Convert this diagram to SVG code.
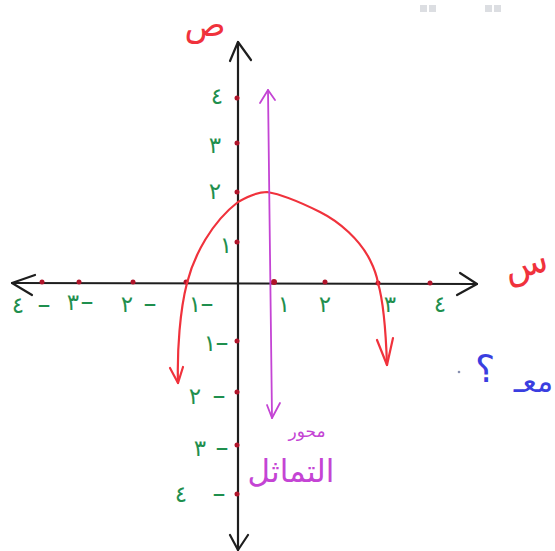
<svg xmlns="http://www.w3.org/2000/svg" width="555" height="551" viewBox="0 0 555 551">
<style>
.ax{fill:none;stroke:#1e1e1e;stroke-width:2.2;stroke-linecap:round;stroke-linejoin:round}
.cv{fill:none;stroke:#f0323c;stroke-width:2.2;stroke-linecap:round;stroke-linejoin:round}
.sym{fill:none;stroke:#c444d4;stroke-width:1.8;stroke-linecap:round;stroke-linejoin:round}
.dot{fill:#b0142a}
.g{fill:#1f8f4e;font-family:"DejaVu Sans",sans-serif;font-size:23px;text-anchor:middle}
.d{font-size:26px}
.r{fill:#f0323c;font-family:"DejaVu Sans",sans-serif;text-anchor:middle}
.m{fill:#c444d4;font-family:"DejaVu Sans",sans-serif;text-anchor:middle}
.b{fill:#3a3ee0;font-family:"DejaVu Sans",sans-serif}
.lt{unicode-bidi:bidi-override;direction:ltr}
</style>
<rect width="555" height="551" fill="#ffffff"/>
<g id="corner-marks" fill="#dcdee2">
<rect x="420" y="5" width="7" height="7"/><rect x="429" y="5" width="7" height="7"/>
<rect x="485" y="5" width="7" height="7"/><rect x="494" y="5" width="7" height="7"/>
</g>
<g id="axes">
<path class="ax" d="M12,283 L477,284"/>
<path class="ax" d="M35,275 L12,283 L32,295"/>
<path class="ax" d="M460,273 L477,284 L457,295"/>
<path class="ax" d="M238,42 L238,550"/>
<path class="ax" d="M230,61 L238,42 L251,60"/>
<path class="ax" d="M230,535 L238,550 L248,535"/>
</g>
<g id="ticks">
<circle class="dot" cx="42" cy="282" r="2.5"/>
<circle class="dot" cx="79" cy="282" r="2.5"/>
<circle class="dot" cx="133" cy="282" r="2.5"/>
<circle class="dot" cx="186" cy="282" r="2.5"/>
<circle class="dot" cx="274" cy="282" r="3"/>
<circle class="dot" cx="325" cy="282" r="2.5"/>
<circle class="dot" cx="378" cy="283" r="2.5"/>
<circle class="dot" cx="430" cy="283" r="2.5"/>
<circle class="dot" cx="237" cy="98" r="2.5"/>
<circle class="dot" cx="237" cy="143" r="2.5"/>
<circle class="dot" cx="237" cy="192" r="2.5"/>
<circle class="dot" cx="237" cy="242" r="2.5"/>
<circle class="dot" cx="237" cy="341" r="2.5"/>
<circle class="dot" cx="237" cy="392" r="2.5"/>
<circle class="dot" cx="237" cy="445" r="2.5"/>
<circle class="dot" cx="237" cy="494" r="2.5"/>
</g>
<g id="x-labels">
<text class="g" x="284" y="312">١</text>
<text class="g" x="325" y="312">٢</text>
<text class="g" x="390" y="312">٣</text>
<text class="g" x="440" y="312">٤</text>
<text class="g lt" y="312"><tspan x="195">١</tspan><tspan class="d" x="207">–</tspan></text>
<text class="g lt" y="312"><tspan x="127">٢</tspan><tspan class="d" x="150">–</tspan></text>
<text class="g lt" y="310"><tspan x="73">٣</tspan><tspan class="d" x="87">–</tspan></text>
<text class="g lt" y="313"><tspan x="18">٤</tspan><tspan class="d" x="44">–</tspan></text>
</g>
<g id="y-labels">
<text class="g" x="217" y="104">٤</text>
<text class="g" x="215" y="153">٣</text>
<text class="g" x="215" y="199">٢</text>
<text class="g" x="226" y="253">١</text>
<text class="g lt" y="351"><tspan x="210">١</tspan><tspan class="d" x="222">–</tspan></text>
<text class="g lt" y="404"><tspan x="195">٢</tspan><tspan class="d" x="219">–</tspan></text>
<text class="g lt" y="456"><tspan x="200">٣</tspan><tspan class="d" x="222">–</tspan></text>
<text class="g lt" y="502"><tspan x="181">٤</tspan><tspan class="d" x="219">–</tspan></text>
</g>
<g id="axis-names">
<text class="r" x="205" y="36" font-size="34">ص</text>
<text class="r" x="525" y="276" font-size="36" transform="rotate(-15 525 262)">س</text>
</g>
<g id="curve">
<path class="cv" d="M178,383 C177,350 180,310 187,283 C194,255 212,222 238,202 C250,195 258,192 267,192 C280,194 300,202 320,212 C340,222 360,240 370,260 C375,270 377,277 378,283 C383,300 386,335 387,365"/>
<path class="cv" d="M170,368 L178,383 L183,367"/>
<path class="cv" d="M377,340 L387,365 L393,338"/>
</g>
<g id="symmetry-axis">
<path class="sym" d="M268,90 L272,418"/>
<path class="sym" d="M260,103 L268,90 L275,100"/>
<path class="sym" d="M267,405 L272,418 L280,403"/>
<text class="m" x="307" y="437" font-size="17">محور</text>
<text class="m" x="291" y="482" font-size="31">التماثل</text>
</g>
<g id="note">
<circle cx="459" cy="372" r="1.3" fill="#8890b0"/>
<text class="b" x="485" y="382" font-size="38" text-anchor="middle">؟</text>
<text class="b" x="553" y="392" font-size="30" text-anchor="end">معـ</text>
</g>
</svg>
